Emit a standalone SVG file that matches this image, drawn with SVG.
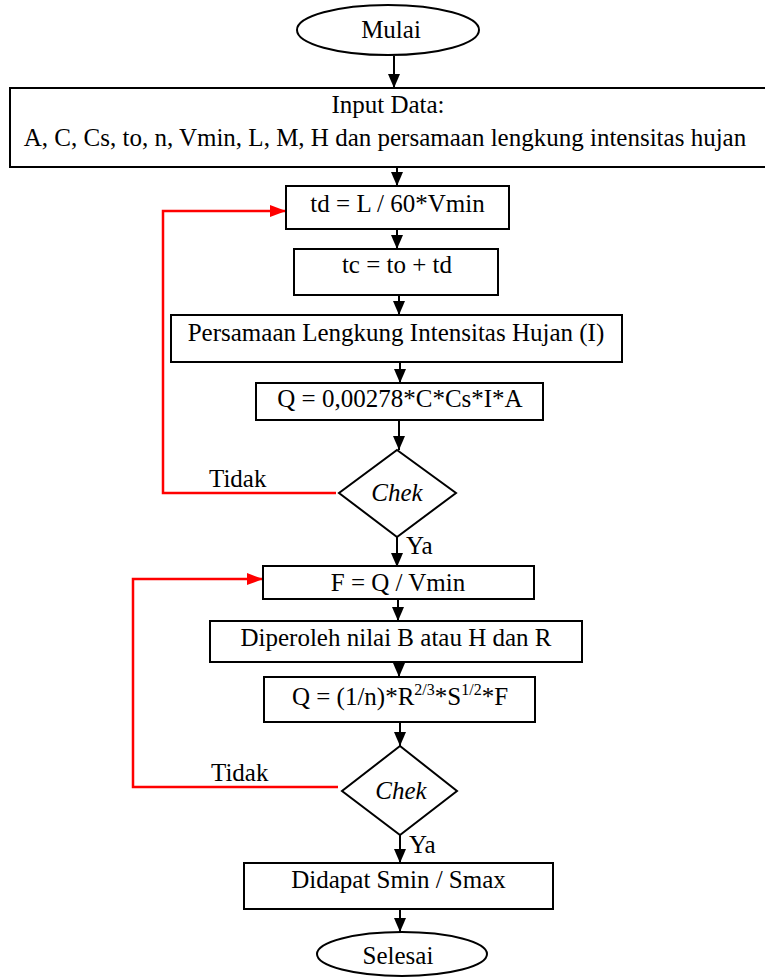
<svg xmlns="http://www.w3.org/2000/svg" width="765" height="977" viewBox="0 0 765 977">
  <style>
    .shape { fill: #ffffff; stroke: #000000; stroke-width: 2; }
    .lbl { font-family: "Liberation Serif", "Times New Roman", serif; font-size: 25px; fill: #000000; text-anchor: middle; }
    .side { font-family: "Liberation Serif", "Times New Roman", serif; font-size: 25px; fill: #000000; }
    .it { font-style: italic; }
    .sup { font-size: 16px; }
    .flow { fill: none; stroke: #000000; stroke-width: 2; }
    .loop { fill: none; stroke: #ff0000; stroke-width: 2.5; }
  </style>
  <defs>
    <marker id="arrowBlack" markerUnits="userSpaceOnUse" markerWidth="14" markerHeight="14" viewBox="0 0 14 14" refX="14" refY="7" orient="auto">
      <path d="M0,1 L14,7 L0,13 Z" fill="#000000"/>
    </marker>
    <marker id="arrowRed" markerUnits="userSpaceOnUse" markerWidth="16" markerHeight="14" viewBox="0 0 16 14" refX="16" refY="7" orient="auto">
      <path d="M0,1 L16,7 L0,13 Z" fill="#ff0000"/>
    </marker>
  </defs>

  <rect width="765" height="977" fill="#ffffff"/>

  <!-- connectors -->
  <g id="connectors">
    <line class="flow" x1="394" y1="56" x2="394" y2="88" marker-end="url(#arrowBlack)"/>
    <line class="flow" x1="397" y1="167" x2="397" y2="186" marker-end="url(#arrowBlack)"/>
    <line class="flow" x1="397" y1="229" x2="397" y2="249" marker-end="url(#arrowBlack)"/>
    <line class="flow" x1="399" y1="295" x2="399" y2="315" marker-end="url(#arrowBlack)"/>
    <line class="flow" x1="400" y1="362" x2="400" y2="383" marker-end="url(#arrowBlack)"/>
    <line class="flow" x1="399" y1="420" x2="399" y2="450" marker-end="url(#arrowBlack)"/>
    <line class="flow" x1="397" y1="537" x2="397" y2="567" marker-end="url(#arrowBlack)"/>
    <line class="flow" x1="398" y1="599" x2="398" y2="621" marker-end="url(#arrowBlack)"/>
    <line class="flow" x1="399" y1="662" x2="399" y2="677" marker-end="url(#arrowBlack)"/>
    <line class="flow" x1="400" y1="722" x2="400" y2="746" marker-end="url(#arrowBlack)"/>
    <line class="flow" x1="400" y1="835" x2="400" y2="863" marker-end="url(#arrowBlack)"/>
    <line class="flow" x1="400" y1="909" x2="400" y2="932" marker-end="url(#arrowBlack)"/>
    <!-- "Tidak" loops back -->
    <polyline class="loop" points="336,493 163,493 163,211 286,211" marker-end="url(#arrowRed)"/>
    <polyline class="loop" points="338,787 133,787 133,579 263,579" marker-end="url(#arrowRed)"/>
    <text class="side" x="209" y="487">Tidak</text>
    <text class="side" x="406" y="554">Ya</text>
    <text class="side" x="211" y="781">Tidak</text>
    <text class="side" x="409" y="853">Ya</text>
  </g>

  <g id="mulai">
    <ellipse class="shape" cx="388" cy="30" rx="91" ry="25"/>
    <text class="lbl" x="391" y="38">Mulai</text>
  </g>

  <g id="input-data">
    <rect class="shape" x="10" y="88" width="760" height="79"/>
    <text class="lbl" x="388" y="113">Input Data:</text>
    <text class="lbl" x="385" y="146">A, C, Cs, to, n, Vmin, L, M, H dan persamaan lengkung intensitas hujan</text>
  </g>

  <g id="td">
    <rect class="shape" x="286" y="186" width="223" height="43"/>
    <text class="lbl" x="397.5" y="212">td = L / 60*Vmin</text>
  </g>

  <g id="tc">
    <rect class="shape" x="294" y="249" width="204" height="46"/>
    <text class="lbl" x="397" y="273">tc = to + td</text>
  </g>

  <g id="intensitas">
    <rect class="shape" x="171" y="315" width="451" height="47"/>
    <text class="lbl" x="396" y="341">Persamaan Lengkung Intensitas Hujan (I)</text>
  </g>

  <g id="debit">
    <rect class="shape" x="256" y="383" width="287" height="37"/>
    <text class="lbl" x="400" y="407">Q = 0,00278*C*Cs*I*A</text>
  </g>

  <g id="chek-1">
    <polygon class="shape" points="397,450 456,493 397,537 339,493"/>
    <text class="lbl it" x="397" y="501">Chek</text>
  </g>

  <g id="luas">
    <rect class="shape" x="263" y="566" width="271" height="33"/>
    <text class="lbl" x="398" y="591">F = Q / Vmin</text>
  </g>

  <g id="dimensi">
    <rect class="shape" x="210" y="621" width="372" height="41"/>
    <text class="lbl" x="396" y="646">Diperoleh nilai B atau H dan R</text>
  </g>

  <g id="manning">
    <rect class="shape" x="264" y="677" width="271" height="45"/>
    <text class="lbl" x="400" y="705">Q = (1/n)*R<tspan class="sup" dy="-10">2/3</tspan><tspan dy="10">*S</tspan><tspan class="sup" dy="-10">1/2</tspan><tspan dy="10">*F</tspan></text>
  </g>

  <g id="chek-2">
    <polygon class="shape" points="400,746 457,791 400,835 342,791"/>
    <text class="lbl it" x="401" y="799">Chek</text>
  </g>

  <g id="kemiringan">
    <rect class="shape" x="244" y="863" width="309" height="46"/>
    <text class="lbl" x="398.5" y="888">Didapat Smin / Smax</text>
  </g>

  <g id="selesai">
    <ellipse class="shape" cx="402" cy="954" rx="85" ry="22"/>
    <text class="lbl" x="398" y="964">Selesai</text>
  </g>
</svg>
